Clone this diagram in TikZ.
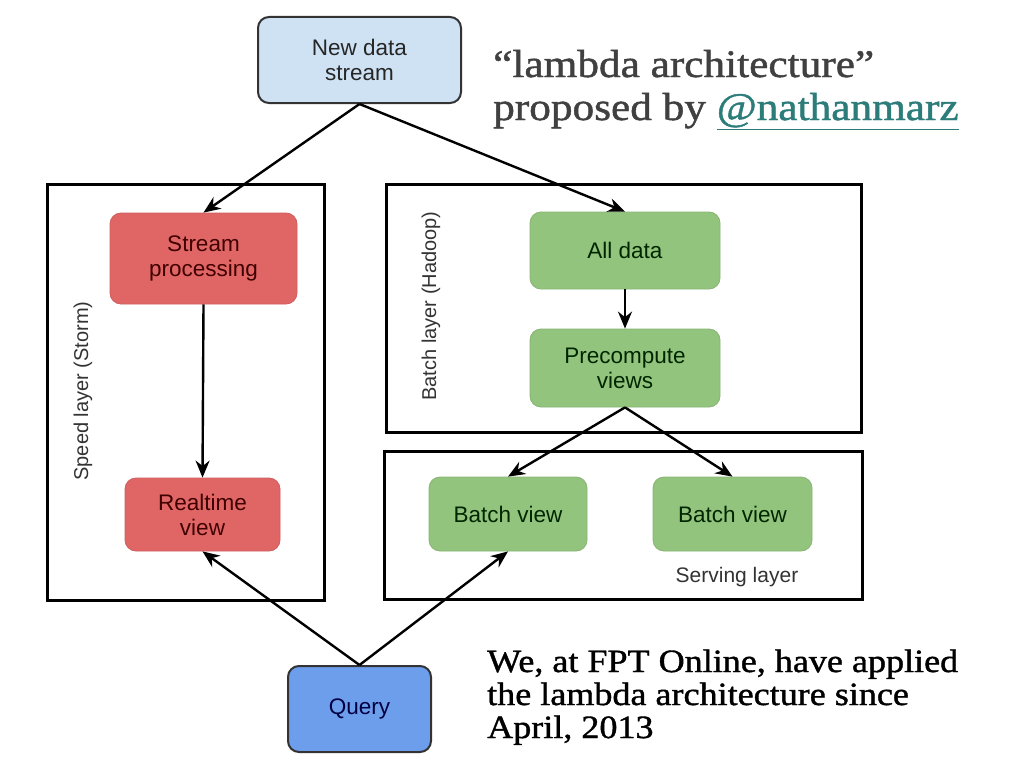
\documentclass[tikz,border=0pt]{standalone}
\usepackage{fontspec}
\setmainfont{Liberation Sans}
\newfontfamily\slidefont{Liberation Serif}[FakeStretch=1.11,FakeBold=1.2]
\usetikzlibrary{arrows.meta}
\definecolor{bluelt}{HTML}{CFE2F3}
\definecolor{bluedk}{HTML}{6D9EEB}
\definecolor{redbox}{HTML}{E06666}
\definecolor{greenbox}{HTML}{93C47D}
\definecolor{titlegray}{HTML}{404040}
\definecolor{linkteal}{HTML}{2C7C79}
\tikzset{
  proc/.style={rounded corners=11pt, align=center, inner sep=0pt,
    font=\fontsize{22.5}{25}\selectfont},
  redproc/.style={proc, fill=redbox, draw=redbox!92!black, line width=0.8pt, text=red!25!black},
  greenproc/.style={proc, fill=greenbox, draw=greenbox!92!black, line width=0.8pt, text=green!15!black},
  layer/.style={draw=black, line width=3pt, inner sep=0pt},
  layerlabel/.style={font=\fontsize{20}{22}\selectfont, text=black!80, inner sep=0pt},
  flow/.style={line width=2.4pt, -{Stealth[length=17pt,width=14pt]}},
}
\begin{document}
\begin{tikzpicture}[x=1pt,y=-1pt]
\useasboundingbox[fill=white] (0,0) rectangle (1024,768);

% layer frames
\node[layer, minimum width=277pt, minimum height=416pt] (speed) at (185.5,392) {};
\node[layer, minimum width=475pt, minimum height=248pt] (batch) at (623.5,308) {};
\node[layer, minimum width=478pt, minimum height=148pt] (serving) at (623,525) {};

\node[layerlabel, rotate=90] (speedlbl) at (83,391) {Speed layer (Storm)};
\node[layerlabel, rotate=90] (batchlbl) at (431,306) {Batch layer (Hadoop)};
\node[layerlabel, font=\fontsize{21}{22}\selectfont] (servlbl) at (737,577) {Serving layer};

% process nodes
\node[proc, fill=bluelt, draw=black!80, line width=2pt, text=black!85,
  minimum width=203pt, minimum height=86pt] (new) at (359.5,60) {New data\\stream};
\node[redproc, minimum width=187pt, minimum height=91pt] (stream) at (203.5,258.5) {Stream\\processing};
\node[redproc, minimum width=155pt, minimum height=73pt] (rt) at (202.5,514.5) {Realtime\\view};
\node[greenproc, minimum width=190pt, minimum height=77pt] (all) at (625,250.5) {All data};
\node[greenproc, minimum width=190pt, minimum height=78pt] (pre) at (625,368) {Precompute\\views};
\node[greenproc, minimum width=158pt, minimum height=74pt] (bv1) at (508,514) {Batch view};
\node[greenproc, minimum width=159pt, minimum height=74pt] (bv2) at (732.5,514) {Batch view};
\node[proc, fill=bluedk, draw=black!80, line width=2pt, text=blue!25!black,
  minimum width=143pt, minimum height=86pt] (query) at (359.5,709) {Query};

% connectors
\draw[flow] (new.south) -- (stream.north);
\draw[flow] (new.south) -- (all.north);
\draw[flow] (stream.south) -- (rt.north);
\draw[flow] (all.south) -- (pre.north);
\draw[flow] (pre.south) -- (bv1.north);
\draw[flow] (pre.south) -- (bv2.north);
\draw[flow] (query.north) -- (rt.south);
\draw[flow] (query.north) -- (bv1.south);

% slide texts
\node[anchor=base west, inner sep=0pt, align=left, text=titlegray,
  font=\slidefont\fontsize{39}{43}\selectfont] (title) at (493,120)
  {“lambda architecture”\\proposed by \textcolor{linkteal}{\underline{@nathanmarz}}};
\node[anchor=base west, inner sep=0pt, align=left, text=black,
  font=\slidefont\fontsize{32.5}{33}\selectfont] (note) at (487,738)
  {We, at FPT Online, have applied\\the lambda architecture since\\April, 2013};
\end{tikzpicture}
\end{document}
